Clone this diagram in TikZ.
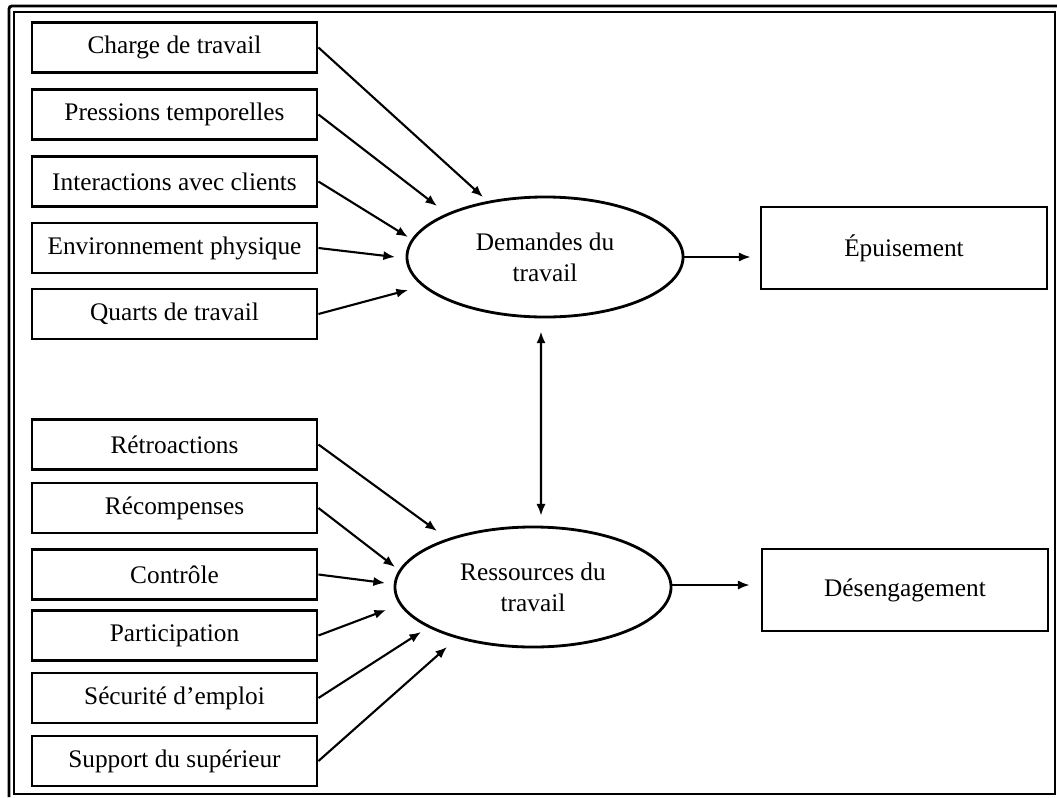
\documentclass[tikz,border=0pt]{standalone}
\usepackage{fontspec}
\setmainfont{Liberation Serif}
\usetikzlibrary{positioning,arrows.meta,shapes.geometric}
\tikzset{
  every picture/.style={line width=1.5pt},
  item/.style={draw,rectangle,line width=2pt,minimum height=12.5mm,minimum width=71.25mm,align=center,inner sep=1pt,font=\fontsize{18}{22}\selectfont},
  latent/.style={draw,ellipse,line width=2pt,minimum width=69mm,minimum height=30mm,align=center,inner sep=0pt,font=\fontsize{18}{22}\selectfont},
  outc/.style={draw,rectangle,line width=2pt,minimum height=20.5mm,minimum width=71.5mm,align=center,font=\fontsize{18}{22}\selectfont},
  flow/.style={-{Latex[length=2.9mm,width=2.3mm]},line width=1.5pt},
  dflow/.style={{Latex[length=2.9mm,width=2.3mm]}-{Latex[length=2.9mm,width=2.3mm]},line width=1.5pt},
  frame/.style={line width=2pt},
}
\begin{document}
\begin{tikzpicture}[x=0.025cm,y=-0.025cm]
\useasboundingbox (0,0) rectangle (1057,797);
% frame
\draw[frame,rounded corners=2pt] (9,797) -- (9,6) -- (1057,6);
\draw[frame] (14,12) rectangle (1055,794);
% job demands
\node[item] (cha) at (174.5,47.5) {Charge de travail};
\node[item] (pre) at (174.5,114.5) {Pressions temporelles};
\node[item] (int) at (174.5,181.5) {Interactions avec clients};
\node[item] (env) at (174.5,248) {Environnement physique};
\node[item] (qua) at (174.5,314) {Quarts de travail};
\node[latent] (dem) at (545,257) {Demandes du\\travail};
% job resources
\node[item] (ret) at (174.5,444.5) {Rétroactions};
\node[item] (rec) at (174.5,508) {Récompenses};
\node[item] (con) at (174.5,574.5) {Contrôle};
\node[item] (par) at (174.5,635.5) {Participation};
\node[item] (sec) at (174.5,698) {Sécurité d’emploi};
\node[item] (sup) at (174.5,761) {Support du supérieur};
\node[latent] (res) at (533,587) {Ressources du\\travail};
% outcomes
\node[outc] (epu) at (904,248) {Épuisement};
\node[outc] (des) at (905,590) {Désengagement};
% arrow ends near the ellipses
\coordinate (d1) at (483,197);
\coordinate (d2) at (437,206);
\coordinate (d3) at (408,237);
\coordinate (d4) at (395,257);
\coordinate (d5) at (408,290);
\coordinate (r1) at (437,531);
\coordinate (r2) at (395,567);
\coordinate (r3) at (385,583);
\coordinate (r4) at (386,610);
\coordinate (r5) at (421,632);
\coordinate (r6) at (447,647);
% demands arrows
\draw[flow] (cha.east) -- (d1);
\draw[flow] (pre.east) -- (d2);
\draw[flow] (int.east) -- (d3);
\draw[flow] (env.east) -- (d4);
\draw[flow] (qua.east) -- (d5);
% resources arrows
\draw[flow] (ret.east) -- (r1);
\draw[flow] (rec.east) -- (r2);
\draw[flow] (con.east) -- (r3);
\draw[flow] (par.east) -- (r4);
\draw[flow] (sec.east) -- (r5);
\draw[flow] (sup.east) -- (r6);
% link and outcomes
\draw[dflow] ([xshift=-0.1cm,yshift=-0.33cm]dem.south) -- ([xshift=0.2cm,yshift=0.25cm]res.north);
\draw[flow,shorten >=0.225cm] (dem.east) -- (dem.east -| epu.west);
\draw[flow,shorten >=0.275cm] ([yshift=0.05cm]res.east) -- ([yshift=0.05cm]res.east -| des.west);
\end{tikzpicture}
\end{document}
